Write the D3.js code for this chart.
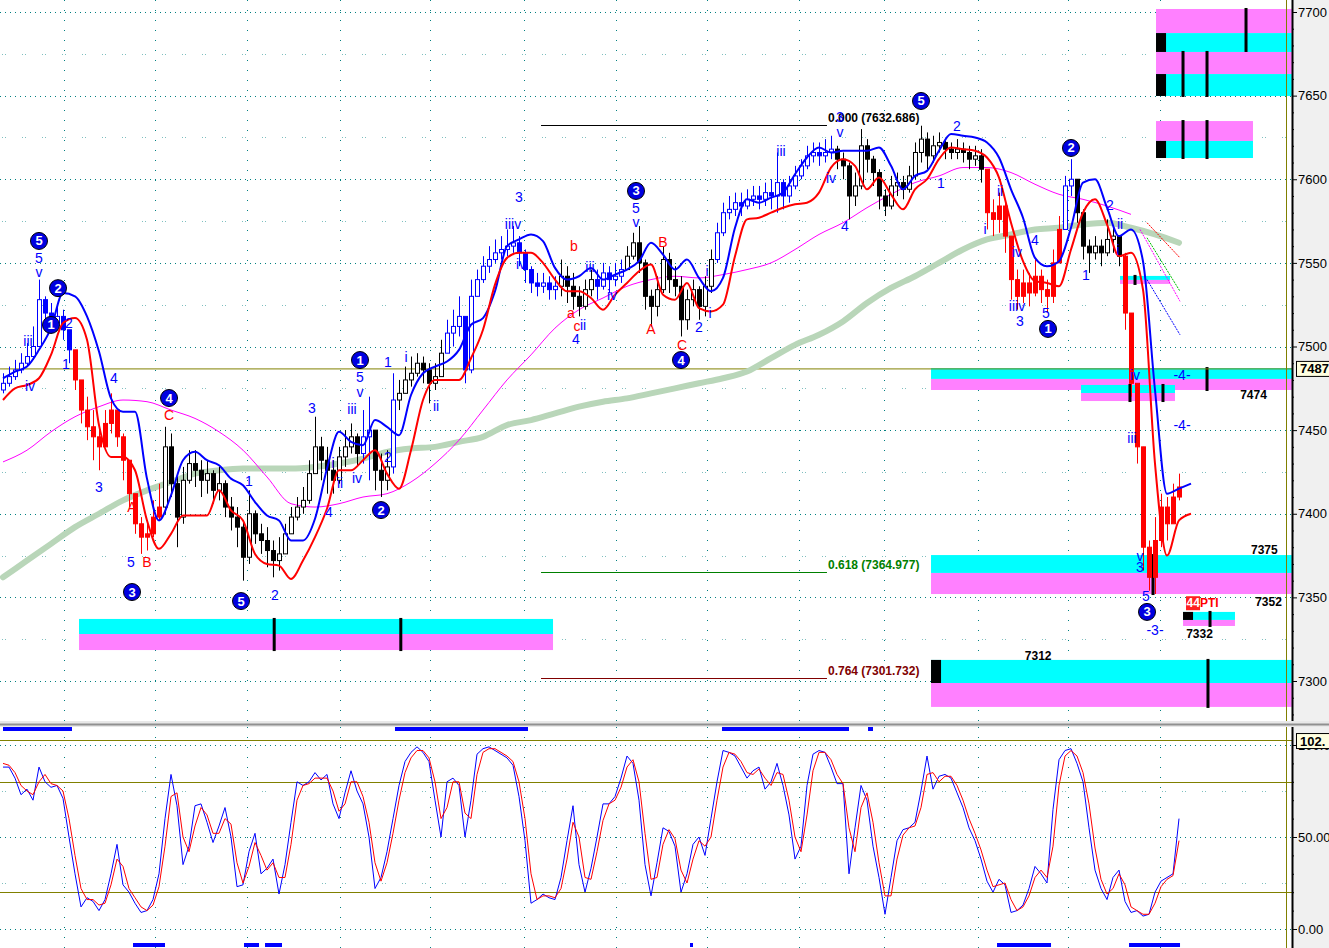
<!DOCTYPE html>
<html><head><meta charset="utf-8">
<script src="https://cdn.jsdelivr.net/npm/d3@7"></script>
<style>
body{margin:0;background:#fff;}
svg{display:block;}
text{font-family:"Liberation Sans",Arial,sans-serif;}
</style>
</head><body>
<svg id="c" width="1329" height="948"></svg>
<script>
// ---------------- DATA ----------------
const closes = [7478,7482,7486,7490,7494,7500,7528,7520,7514,7518,
7510,7498,7480,7462,7452,7446,7440,7454,7462,7446,
7432,7412,7394,7386,7388,7398,7404,7440,7418,7398,
7420,7430,7426,7420,7424,7414,7418,7404,7398,7392,
7374,7400,7388,7384,7378,7372,7376,7388,7398,7404,
7408,7424,7440,7432,7426,7420,7434,7440,7446,7436,
7446,7450,7426,7420,7428,7468,7472,7480,7484,7490,
7486,7478,7482,7496,7508,7512,7518,7486,7530,7540,
7548,7552,7556,7558,7560,7562,7556,7546,7538,7536,
7538,7534,7536,7542,7536,7530,7524,7534,7540,7536,
7544,7540,7542,7546,7554,7562,7550,7530,7524,7534,
7552,7540,7536,7516,7528,7534,7524,7536,7552,7568,
7580,7582,7586,7584,7588,7590,7588,7592,7590,7598,
7590,7596,7602,7608,7614,7616,7614,7616,7618,7612,
7608,7590,7596,7620,7612,7604,7590,7584,7596,7598,
7594,7602,7616,7624,7614,7620,7622,7618,7616,7618,
7616,7612,7614,7606,7580,7576,7584,7566,7540,7530,
7538,7532,7542,7534,7530,7550,7570,7596,7600,7580,
7560,7556,7560,7556,7564,7566,7554,7520,7478,7440,
7380,7362,7384,7404,7394,7410,7416];
const highs = [7484,7488,7492,7496,7502,7512,7540,7530,7526,7524,
7522,7508,7496,7478,7470,7462,7452,7462,7472,7462,
7448,7432,7412,7398,7396,7408,7418,7452,7448,7422,
7428,7438,7438,7432,7432,7426,7428,7420,7410,7404,
7396,7414,7402,7394,7392,7384,7386,7394,7404,7410,
7416,7432,7458,7446,7440,7432,7440,7450,7454,7448,
7462,7470,7446,7436,7438,7484,7480,7488,7494,7496,
7494,7490,7490,7504,7516,7522,7530,7510,7540,7546,
7554,7560,7564,7566,7570,7572,7566,7558,7548,7544,
7544,7542,7542,7552,7548,7544,7536,7540,7546,7546,
7550,7548,7550,7552,7560,7568,7572,7552,7534,7542,
7560,7556,7548,7542,7534,7540,7536,7542,7558,7574,
7586,7590,7592,7592,7594,7596,7596,7598,7600,7616,
7600,7602,7608,7612,7620,7622,7622,7624,7626,7620,
7616,7610,7604,7630,7624,7614,7606,7594,7602,7604,
7602,7608,7622,7632,7628,7626,7628,7624,7622,7624,
7622,7620,7620,7618,7604,7588,7592,7586,7560,7546,
7546,7544,7552,7546,7540,7558,7578,7602,7612,7600,
7582,7564,7566,7564,7576,7572,7566,7556,7520,7476,
7440,7384,7398,7412,7410,7418,7424];
const lows = [7472,7476,7480,7484,7488,7492,7500,7510,7508,7510,
7504,7490,7474,7454,7444,7432,7426,7440,7448,7440,
7420,7404,7388,7376,7378,7386,7396,7400,7410,7380,
7394,7418,7416,7410,7412,7406,7408,7398,7390,7380,
7360,7370,7382,7376,7368,7362,7366,7376,7388,7396,
7400,7406,7426,7420,7412,7412,7418,7428,7436,7428,
7430,7420,7414,7410,7414,7424,7462,7472,7476,7482,
7478,7466,7474,7484,7498,7500,7506,7478,7484,7530,
7538,7544,7550,7552,7554,7556,7548,7538,7532,7530,
7532,7528,7528,7530,7526,7522,7518,7522,7530,7528,
7534,7532,7536,7538,7546,7552,7544,7522,7512,7518,
7532,7532,7530,7506,7510,7524,7516,7518,7532,7550,
7566,7576,7578,7578,7582,7584,7582,7584,7582,7580,
7582,7586,7594,7600,7606,7610,7608,7610,7612,7606,
7600,7576,7584,7594,7604,7596,7582,7578,7582,7590,
7588,7592,7600,7610,7606,7610,7616,7612,7612,7612,
7610,7606,7608,7598,7570,7566,7568,7556,7528,7522,
7526,7524,7530,7526,7520,7526,7552,7572,7590,7574,
7552,7544,7552,7548,7554,7556,7548,7510,7470,7430,
7366,7354,7352,7380,7384,7396,7408];
const firstOpen = 7474;
// trend state runs: b = blue, r = red, k = black
const trendRuns = [['b',12],['r',15],['k',33],['b',2],['k',3],['b',1],['k',8],['b',19],['k',6],['b',5],
  ['k',15],['b',20],['k',25],['r',13],['b',2],['k',8],['r',10]];

// moving averages (blue & red sampled every 2 bars, magenta & green every 4 bars)
const blueMA = [7481,7485,7488,7498,7511,7532,7530,7518,7497,7469,
7461,7461,7421,7396,7411,7432,7437,7432,7429,7421,
7417,7407,7399,7396,7384,7384,7397,7427,7449,7443,
7441,7456,7452,7447,7471,7484,7488,7491,7498,7513,
7517,7533,7560,7564,7567,7563,7547,7540,7542,7547,
7540,7543,7546,7551,7562,7555,7546,7552,7541,7533,
7541,7571,7588,7586,7589,7592,7603,7613,7619,7616,
7617,7617,7617,7619,7608,7594,7602,7605,7617,7627,
7626,7625,7622,7613,7594,7577,7553,7548,7551,7571,
7598,7600,7583,7566,7570,7551,7474,7412,7415,7418];
const redMA = [7468,7475,7477,7481,7495,7514,7517,7504,7453,7434,
7434,7426,7396,7379,7388,7399,7399,7399,7414,7402,
7396,7376,7370,7369,7361,7372,7386,7403,7426,7426,
7432,7438,7424,7415,7438,7468,7480,7480,7480,7493,
7510,7537,7553,7556,7556,7550,7540,7533,7533,7529,
7522,7531,7538,7545,7549,7531,7528,7538,7523,7521,
7525,7554,7576,7577,7580,7583,7585,7586,7592,7607,
7612,7608,7594,7601,7591,7582,7594,7600,7612,7619,
7618,7617,7613,7601,7574,7551,7539,7538,7536,7558,
7580,7588,7573,7554,7556,7534,7430,7375,7396,7400];
const magentaMA = [7431,7438,7449,7458,7464,7468,7467,7462,7457,7449,
7438,7422,7406,7404,7406,7410,7412,7419,7430,7444,
7462,7480,7495,7511,7522,7529,7536,7540,7542,7541,
7543,7546,7550,7558,7567,7574,7583,7591,7598,7602,
7607,7607,7604,7597,7591,7588,7584,7579];
const greenMA = [7362,7372,7382,7392,7400,7408,7414,7419,7424,7426,
7427,7427,7427,7428,7430,7433,7437,7439,7440,7443,
7446,7453,7456,7460,7464,7467,7469,7472,7475,7478,
7481,7485,7493,7501,7507,7515,7526,7535,7542,7550,
7558,7564,7567,7570,7571,7573,7574,7571,7567,7562];
// projection fan: [fromBar, fromPrice, toBar, toPrice, colour key]
const projections = [[190.67,7574,196.17,7553,'r'],[190.67,7565,196.17,7533,'g'],
  [189.5,7570,196.17,7527,'m'],[190.67,7540,196.17,7507,'b']];

// stochastic %K (blue) and %D (red), one per bar
const stochK = [88,88,82,73,76,70,88,80,77,78,71,50,30,12,17,15,10,16,30,46,
24,20,14,9,10,16,30,60,84,67,35,45,67,68,58,47,56,66,50,23,
24,42,52,30,33,38,19,35,58,80,78,80,85,81,84,68,60,74,86,75,
68,50,22,28,42,60,78,91,96,99,96,91,70,50,80,82,78,50,70,95,
98,99,97,95,93,89,72,48,14,16,19,17,16,28,48,67,35,20,33,50,
68,68,72,82,94,90,70,35,18,36,55,53,45,20,30,46,50,40,60,80,
97,96,94,88,82,86,88,76,80,90,78,62,38,45,78,95,97,96,88,79,
79,30,55,78,70,45,28,8,28,48,54,55,58,75,94,76,83,84,82,74,
66,55,48,38,26,20,27,24,9,10,13,22,34,30,25,65,92,97,98,90,
80,55,32,22,16,28,32,15,9,10,7,8,20,26,28,30,60];
const stochD = [90,89,85,78,75,73,80,84,79,78,75,60,40,22,16,16,13,14,24,38,
34,22,17,12,10,13,23,45,72,74,50,42,56,66,62,52,52,60,57,36,
25,34,47,40,32,36,28,28,46,70,78,79,82,82,82,75,64,68,80,80,
72,58,36,26,36,52,70,85,93,97,97,93,80,60,66,80,80,63,60,84,
96,98,98,96,94,91,80,60,30,16,18,18,17,22,38,58,50,28,27,42,
59,68,70,77,88,92,80,52,27,28,46,54,49,32,25,38,48,45,50,70,
88,96,95,91,85,84,87,82,78,85,84,70,50,42,62,86,96,96,92,84,
79,55,42,66,74,58,36,18,18,38,51,55,56,66,84,85,80,83,83,78,
70,60,52,43,32,23,24,25,16,10,12,18,28,32,28,45,78,94,97,94,
85,68,44,27,19,22,30,24,12,10,8,8,14,23,27,29,48];
const stochTopLevel = 102.7;
const stochTopLabel = "102.";
// signal strips (bar ranges)
const topSignals = [[0,11.5],[65.33,87.5],[119.83,141],[144.17,145]];
const bottomSignals = [[21.67,27],[40.17,42.67],[43.67,46.5],[114.5,114.83],[165.67,174.67],[187.67,196.17]];

// time grid (bar positions of date separators)
const gridBars = [10.17,25.33,40.67,56.17,71.17,86.83,102.17,117.33,132.67,146.83,162.5,177.5,192.83];

// price ticks
const priceTicks = [7300,7350,7400,7450,7500,7550,7600,7650,7700];
const lastPrice = 7486.6;
const lastPriceLabel = "7487.";

// target zones: [fromBar, toBar, level1, level2, level3, order, cap, marks]
const zones = [
 [12.67, 91.67, 7337.1,7328.1,7318.5,'cm',false,[45.2,66.3]],
 [192.17,214.8, 7701.8,7687.4,7676.1,'mc',true,[207.17]],
 [192.17,214.8, 7676.1,7662.9,7649.8,'mc',true,[196.67,200.67]],
 [192.17,208.33,7634.8,7622.9,7612.7,'mc',true,[196.67,200.67]],
 [154.67,214.8, 7487.1,7480.6,7474.0,'cm',false,[200.67]],
 [179.67,195.33,7477.0,7472.2,7467.4,'cm',false,[187.83,193.33]],
 [186.17,194.5, 7542.2,7539.8,7537.4,'cm',false,[188.67]],
 [154.67,214.8, 7375.3,7364.6,7352.0,'cm',false,[191.67]],
 [196.67,205.33,7341.3,7336.5,7332.9,'cm',true,[201.17]],
 [154.67,214.8, 7312.6,7298.8,7284.5,'cm',true,[200.83]]
];
const zoneLabels = [["7474",206.2,7471],["7375",208.0,7378.5],["7352",208.7,7347],["7332",197.2,7328],["7312",170.3,7315]];

// fibonacci levels
const fibLevels = [[0.000,7632.686,'#000000'],[0.618,7364.977,'#008000'],[0.764,7301.732,'#800000']];
const fibFrom = 89.67, fibTo = 137.33;

// Elliott wave labels: [text, bar, price, colour]
const waveLabels = [
["5",6.0,7552.9,'b'],["v",6.0,7544.5,'b'],["iii",4.17,7503.3,'b'],["iv",4.5,7476.4,'b'],["1",10.5,7489.5,'b'],["2",11.0,7514.1,'b'],
["4",18.5,7481.2,'b'],["3",16.0,7416.0,'b'],["5",21.33,7371.1,'b'],["1",41.0,7419.6,'b'],["2",45.33,7351.4,'b'],["3",51.5,7463.2,'b'],
["iii",58.17,7462.6,'b'],["5",59.5,7481.8,'b'],["v",59.5,7472.8,'b'],["iv",59.0,7421.4,'b'],["i",55.0,7430.3,'b'],["ii",56.17,7418.4,'b'],
["4",54.33,7401.0,'b'],["1",64.17,7490.7,'b'],["2",64.17,7433.9,'b'],["i",67.17,7493.7,'b'],["ii",72.17,7464.4,'b'],["3",86.0,7589.4,'b'],
["iiiv",85.0,7573.2,'b'],["iv",86.33,7549.3,'b'],["ii",96.67,7512.9,'b'],["4",95.5,7504.5,'b'],["iii",97.83,7547.5,'b'],["iv",101.5,7530.8,'b'],
["5",105.5,7582.8,'b'],["v",105.5,7574.4,'b'],["2",116.0,7511.7,'b'],["i",117.33,7545.1,'b'],["i",117.83,7520.0,'b'],["iii",129.67,7616.9,'b'],
["iv",138.0,7600.7,'b'],["3",139.5,7637.2,'b'],["v",139.5,7628.3,'b'],["4",140.33,7572.0,'b'],["1",156.33,7597.8,'b'],["2",159.0,7631.8,'b'],
["i",163.67,7570.3,'b'],["ii",166.17,7593.0,'b'],["iv",169.0,7556.5,'b'],["4",172.0,7563.7,'b'],["iiiv",169.0,7524.2,'b'],["3",169.5,7515.2,'b'],
["5",173.83,7520.0,'b'],["1",180.5,7542.8,'b'],["2",184.5,7584.6,'b'],["ii",186.17,7573.2,'b'],["i",185.83,7557.7,'b'],["iv",188.67,7482.9,'b'],
["iii",188.17,7445.3,'b'],["v",189.5,7374.7,'b'],["3",189.5,7368.2,'b'],["5",190.5,7350.8,'b'],
["-4-",196.5,7482.9,'b'],["-4-",196.5,7453.1,'b'],["-3-",192.0,7330.5,'b'],
["C",27.67,7459.0,'r'],["B",24.0,7371.1,'r'],["A",21.5,7404.0,'r'],["b",95.17,7560.1,'r'],["a",94.67,7520.0,'r'],["c",95.67,7512.3,'r'],
["B",110.0,7562.5,'r'],["A",108.0,7510.5,'r'],["C",113.17,7500.9,'r']
];
const circledLabels = [
["5",6.0,7563.1],["1",8.0,7512.9],["2",9.17,7534.9],["4",27.67,7469.2],["3",21.5,7353.2],["5",39.67,7347.8],
["1",59.5,7491.9],["2",63.0,7402.2],["3",105.5,7593.0],["4",113.0,7491.9],["5",153.0,7646.8],["2",178.0,7618.7],
["1",174.17,7510.5],["3",190.67,7341.3]
];

// ---------------- DRAWING ----------------
const svg = d3.select('#c');
const W = 1329, H = 948, axisX = 1292, mainBottom = 721, lowTop = 727;
const x = d3.scaleLinear().domain([0,196]).range([3,1179]);
const y = d3.scaleLinear().domain([7300,7700]).range([681,12]);
const yl = d3.scaleLinear().domain([0,100]).range([929,745]);
const col = {b:'#0000ff', r:'#ff0000', k:'#000000', g:'#00c000', m:'#ff00ff'};

svg.append('rect').attr('width',W).attr('height',H).attr('fill','#ffffff');
svg.append('rect').attr('x',axisX).attr('y',0).attr('width',W-axisX).attr('height',H).attr('fill','#f0f0f0');

const defs = svg.append('defs');
defs.append('clipPath').attr('id','cm').append('rect').attr('x',0).attr('y',0).attr('width',axisX).attr('height',mainBottom);
defs.append('clipPath').attr('id','cl').append('rect').attr('x',0).attr('y',lowTop).attr('width',axisX).attr('height',H-lowTop);

const gm = svg.append('g').attr('clip-path','url(#cm)');
const gl = svg.append('g').attr('clip-path','url(#cl)');

// grids main
gm.selectAll('.hg').data(priceTicks).join('line')
  .attr('x1',0).attr('x2',axisX).attr('y1',d=>Math.round(y(d))+0.5).attr('y2',d=>Math.round(y(d))+0.5)
  .attr('stroke','#008080').attr('stroke-dasharray','1,4');
gm.selectAll('.hm').data(priceTicks.map(d=>d+25)).join('line')
  .attr('x1',2).attr('x2',axisX).attr('y1',d=>Math.round(y(d))+0.5).attr('y2',d=>Math.round(y(d))+0.5)
  .attr('stroke','#7fbfbf').attr('stroke-dasharray','1,2,1,16');
gm.selectAll('.vg').data(gridBars).join('line')
  .attr('x1',d=>Math.round(x(d))+0.5).attr('x2',d=>Math.round(x(d))+0.5).attr('y1',0).attr('y2',mainBottom)
  .attr('stroke','#008080').attr('stroke-dasharray','1,9');

// zones
const zc = '#00ffff', zm = '#ff80ff';
zones.forEach(z=>{
  const [i0,i1,p0,p1,p2,order,cap,marks] = z;
  const x0 = x(i0), x1 = x(i1);
  const topCol = order==='cm'?zc:zm, botCol = order==='cm'?zm:zc;
  gm.append('rect').attr('x',x0).attr('width',x1-x0).attr('y',y(p0)).attr('height',y(p1)-y(p0)).attr('fill',topCol);
  gm.append('rect').attr('x',x0).attr('width',x1-x0).attr('y',y(p1)).attr('height',y(p2)-y(p1)).attr('fill',botCol);
  if(cap){
    const cy0 = order==='cm'?y(p0):y(p1), cy1 = order==='cm'?y(p1):y(p2);
    gm.append('rect').attr('x',x0).attr('width',x(i0+1.67)-x0).attr('y',cy0).attr('height',cy1-cy0).attr('fill','#000');
  }
  marks.forEach(m=>{
    gm.append('rect').attr('x',x(m)-1.5).attr('width',3).attr('y',y(p0)-1).attr('height',y(p2)-y(p0)+2).attr('fill','#000');
  });
});

// last price line
gm.append('line').attr('x1',0).attr('x2',axisX).attr('y1',y(lastPrice)).attr('y2',y(lastPrice)).attr('stroke','#808000').attr('stroke-width',1);

// green & magenta MAs
const lineG = (step)=>d3.line().x((d,i)=>x(i*step)).y(d=>y(d)).curve(d3.curveMonotoneX);
gm.append('path').attr('d',lineG(4)(greenMA)).attr('fill','none').attr('stroke','#b9d6b9').attr('stroke-width',6).attr('stroke-linecap','round');
gm.append('path').attr('d',lineG(4)(magentaMA)).attr('fill','none').attr('stroke','#ff00ff').attr('stroke-width',1);

// projections
projections.forEach(p=>{
  gm.append('line').attr('x1',x(p[0])).attr('y1',y(p[1])).attr('x2',x(p[2])).attr('y2',y(p[3]))
    .attr('stroke',col[p[4]]).attr('stroke-width',1).attr('stroke-dasharray','2,1');
});

// bars
const trend = [];
trendRuns.forEach(([c,n])=>{for(let k=0;k<n;k++) trend.push(c);});
const bars = closes.map((c,i)=>({i, o: i===0?firstOpen:closes[i-1], h:highs[i], l:lows[i], c, t:trend[i]||'k'}));
const gb = gm.append('g');
bars.forEach(b=>{
  const cx = Math.round(x(b.i))+0.5, color = col[b.t];
  gb.append('line').attr('x1',cx).attr('x2',cx).attr('y1',y(b.h)).attr('y2',y(b.l)).attr('stroke',color).attr('stroke-width',1);
  const top = y(Math.max(b.o,b.c)), bot = y(Math.min(b.o,b.c));
  const down = b.c < b.o;
  const filled = down || b.t==='r';
  gb.append('rect').attr('x',cx-2).attr('width',4).attr('y',top).attr('height',Math.max(1,bot-top))
    .attr('fill',filled?color:'#ffffff').attr('stroke',color).attr('stroke-width',1);
});

// blue & red MAs
gm.append('path').attr('d',lineG(2)(blueMA)).attr('fill','none').attr('stroke','#0000ff').attr('stroke-width',2);
gm.append('path').attr('d',lineG(2)(redMA)).attr('fill','none').attr('stroke','#ff0000').attr('stroke-width',2);

// fibonacci
fibLevels.forEach(([r,p,c])=>{
  gm.append('line').attr('x1',x(fibFrom)).attr('x2',x(fibTo)).attr('y1',Math.round(y(p))+0.5).attr('y2',Math.round(y(p))+0.5).attr('stroke',c);
  gm.append('text').attr('x',x(fibTo)+1).attr('y',y(p)-3).attr('fill',c).attr('font-size',12).attr('font-weight','bold')
    .text(r.toFixed(3)+' ('+p.toFixed(3)+')');
});

// wave labels
waveLabels.forEach(([t,i,p,c])=>{
  gm.append('text').attr('x',x(i)).attr('y',y(p)).attr('text-anchor','middle').attr('dominant-baseline','central')
    .attr('font-size',14).attr('fill',c==='b'?'#0000ff':'#ff0000').text(t);
});
circledLabels.forEach(([t,i,p])=>{
  const g = gm.append('g').attr('transform',`translate(${x(i)},${y(p)})`);
  g.append('circle').attr('r',8.5).attr('fill','#0000e0').attr('stroke','#000').attr('stroke-width',1);
  g.append('text').attr('text-anchor','middle').attr('dominant-baseline','central').attr('font-size',13).attr('font-weight','bold').attr('fill','#fff').text(t);
});

// zone labels
zoneLabels.forEach(([t,i,p])=>{
  gm.append('text').attr('x',x(i)).attr('y',y(p)).attr('font-size',12).attr('font-weight','bold').attr('fill','#000').attr('dominant-baseline','central').text(t);
});
// PTI tag
const ptiX = x(197.17), ptiY = y(7346.5);
gm.append('rect').attr('x',ptiX).attr('y',ptiY-7).attr('width',14).attr('height',14).attr('fill','#ff2020');
gm.append('text').attr('x',ptiX+0.5).attr('y',ptiY).attr('dominant-baseline','central').attr('font-size',12).attr('font-weight','bold').attr('fill','#fff').text('44');
gm.append('text').attr('x',ptiX+14).attr('y',ptiY).attr('dominant-baseline','central').attr('font-size',12).attr('font-weight','bold').attr('fill','#ff0000').text('PTI');

// ---------- lower panel ----------
[0,50,100].forEach(v=>{
  gl.append('line').attr('x1',0).attr('x2',axisX).attr('y1',Math.round(yl(v))+0.5).attr('y2',Math.round(yl(v))+0.5)
    .attr('stroke','#008080').attr('stroke-dasharray','1,4');
});
[25,75].forEach(v=>{
  gl.append('line').attr('x1',2).attr('x2',axisX).attr('y1',Math.round(yl(v))+0.5).attr('y2',Math.round(yl(v))+0.5)
    .attr('stroke','#7fbfbf').attr('stroke-dasharray','1,2,1,16');
});
gl.selectAll('.vg').data(gridBars).join('line')
  .attr('x1',d=>Math.round(x(d))+0.5).attr('x2',d=>Math.round(x(d))+0.5).attr('y1',lowTop).attr('y2',H)
  .attr('stroke','#008080').attr('stroke-dasharray','1,9');
[20,80,stochTopLevel].forEach(v=>{
  gl.append('line').attr('x1',0).attr('x2',axisX).attr('y1',Math.round(yl(v))+0.5).attr('y2',Math.round(yl(v))+0.5).attr('stroke','#808000');
});
const sl = d3.line().x((d,i)=>x(i)).y(d=>yl(d));
gl.append('path').attr('d',sl(stochK)).attr('fill','none').attr('stroke','#0000ff').attr('stroke-width',1);
gl.append('path').attr('d',sl(stochD)).attr('fill','none').attr('stroke','#ff0000').attr('stroke-width',1);
topSignals.forEach(([a,b])=>{
  gl.append('rect').attr('x',x(a)).attr('width',Math.max(3,x(b)-x(a))).attr('y',lowTop).attr('height',4).attr('fill','#0000ff');
});
bottomSignals.forEach(([a,b])=>{
  gl.append('rect').attr('x',x(a)).attr('width',Math.max(3,x(b)-x(a))).attr('y',H-5).attr('height',4).attr('fill','#0000ff');
});

// separator
svg.append('rect').attr('x',0).attr('y',mainBottom).attr('width',W).attr('height',lowTop-mainBottom).attr('fill','#e8e8e8');
svg.append('line').attr('x1',0).attr('x2',W).attr('y1',mainBottom+3.5).attr('y2',mainBottom+3.5).attr('stroke','#909090').attr('stroke-width',2);

// olive vertical line (right edge)
svg.append('line').attr('x1',1286.5).attr('x2',1286.5).attr('y1',0).attr('y2',mainBottom).attr('stroke','#808000');
svg.append('line').attr('x1',1286.5).attr('x2',1286.5).attr('y1',lowTop).attr('y2',H).attr('stroke','#808000');

// axes
const am = svg.append('g').attr('transform',`translate(${axisX},0)`);
am.call(d3.axisRight(y).tickValues(priceTicks).tickSize(5).tickPadding(1).tickFormat(d3.format('d')));
am.select('.domain').remove();
am.selectAll('text').attr('font-size',13).attr('font-family','"Liberation Sans",Arial,sans-serif').attr('fill','#000');
const amin = svg.append('g').attr('transform',`translate(${axisX},0)`);
amin.call(d3.axisRight(y).tickValues(d3.range(7280,7710,10).filter(v=>v%50!==0)).tickSize(2).tickFormat(''));
amin.select('.domain').remove();
svg.append('line').attr('x1',axisX+0.5).attr('x2',axisX+0.5).attr('y1',0).attr('y2',mainBottom).attr('stroke','#000').attr('stroke-width',2);

const al = svg.append('g').attr('transform',`translate(${axisX},0)`);
al.call(d3.axisRight(yl).tickValues([0,50,100]).tickSize(5).tickPadding(1).tickFormat(d3.format('.2f')));
al.select('.domain').remove();
al.selectAll('text').attr('font-size',13).attr('font-family','"Liberation Sans",Arial,sans-serif').attr('fill','#000');
const almin = svg.append('g').attr('transform',`translate(${axisX},0)`);
almin.call(d3.axisRight(yl).tickValues([10,20,30,40,60,70,80,90]).tickSize(2).tickFormat(''));
almin.select('.domain').remove();
svg.append('line').attr('x1',axisX+0.5).attr('x2',axisX+0.5).attr('y1',lowTop).attr('y2',H).attr('stroke','#000').attr('stroke-width',2);

// value boxes
function valueBox(vy, label){
  svg.append('rect').attr('x',axisX+4.5).attr('y',vy-7.5).attr('width',W-axisX).attr('height',15).attr('fill','#ffffe0').attr('stroke','#000');
  svg.append('text').attr('x',axisX+8).attr('y',vy).attr('dominant-baseline','central').attr('font-size',13).attr('font-weight','bold').attr('fill','#000').text(label);
}
valueBox(y(lastPrice), lastPriceLabel);
valueBox(yl(stochTopLevel)+1, stochTopLabel);
</script>
</body></html>
